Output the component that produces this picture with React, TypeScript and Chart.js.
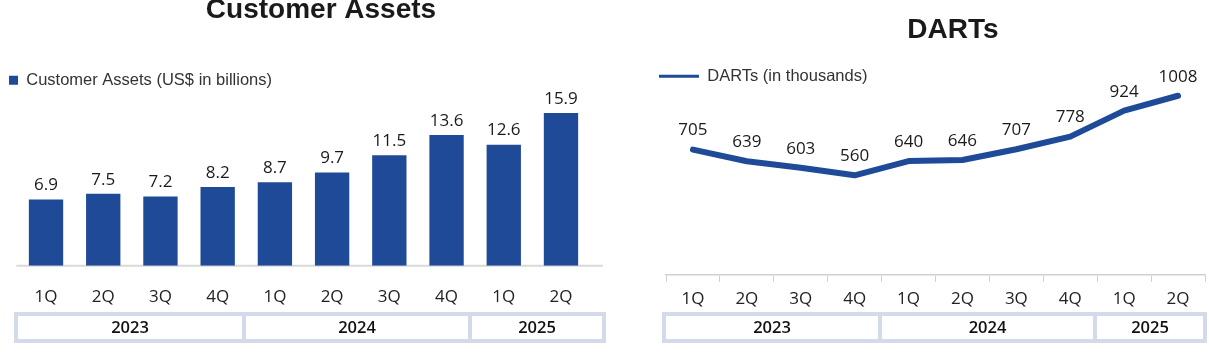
import React, { useEffect, useRef } from 'react';
import { Chart, registerables } from 'chart.js';

Chart.register(...registerables);

// ---------- data ----------
const quarters = ['1Q', '2Q', '3Q', '4Q', '1Q', '2Q', '3Q', '4Q', '1Q', '2Q'];
const years = ['2023', '2024', '2025'];
const customerAssets = [6.9, 7.5, 7.2, 8.2, 8.7, 9.7, 11.5, 13.6, 12.6, 15.9];
const darts = [705, 639, 603, 560, 640, 646, 707, 778, 924, 1008];
const assetsTitle = 'Customer Assets';
const assetsLabel = 'Customer Assets (US$ in billions)';
const dartsTitle = 'DARTs';
const dartsLabel = 'DARTs (in thousands)';

// ---------- styles ----------
const BLUE = '#1f4a98';
const FRAME = '#d3dbeb';
const HUMANIST = "'Open Sans', 'Noto Sans', sans-serif";
const ARIAL = "'Liberation Sans', Arial, sans-serif";
const TICK_FONT = { family: HUMANIST, size: 17, weight: '500' };

const titlePlugin = (text: string, cx: number, cy: number) => ({
  id: 'panelTitle',
  afterDraw(chart: any) {
    const ctx = chart.ctx;
    ctx.save();
    ctx.font = `bold 28px ${ARIAL}`;
    ctx.fillStyle = '#1a1a1a';
    ctx.textAlign = 'center';
    ctx.textBaseline = 'middle';
    ctx.fillText(text, cx, cy);
    ctx.restore();
  },
});

const valueLabels = (offset: number, fmt: (v: number) => string) => ({
  id: 'valueLabels',
  afterDatasetsDraw(chart: any) {
    const ctx = chart.ctx;
    const meta = chart.getDatasetMeta(0);
    const data = chart.data.datasets[0].data as number[];
    ctx.save();
    ctx.font = `500 17px ${HUMANIST}`;
    ctx.fillStyle = '#1a1a1a';
    ctx.textAlign = 'center';
    ctx.textBaseline = 'middle';
    meta.data.forEach((el: any, i: number) => {
      ctx.fillText(fmt(data[i]), el.x, el.y - offset);
    });
    ctx.restore();
  },
});

const yearRow = (edges: number[], top: number, bottom: number) => ({
  id: 'yearRow',
  afterDraw(chart: any) {
    const ctx = chart.ctx;
    ctx.save();
    ctx.fillStyle = FRAME;
    ctx.fillRect(edges[0], top, edges[edges.length - 1] - edges[0], bottom - top);
    for (let i = 0; i < years.length; i++) {
      const l = edges[i] + (i === 0 ? 4 : 2);
      const r = edges[i + 1] - (i === years.length - 1 ? 4 : 2);
      ctx.fillStyle = '#ffffff';
      ctx.fillRect(l, top + 4, r - l, bottom - top - 8);
      ctx.fillStyle = '#111111';
      ctx.font = `600 16.5px ${HUMANIST}`;
      ctx.textAlign = 'center';
      ctx.textBaseline = 'middle';
      ctx.fillText(years[i], (l + r) / 2, (top + bottom) / 2 + 1);
    }
    ctx.restore();
  },
});

const baseLine = (rightEdge: number) => ({
  id: 'baseLine',
  beforeDatasetsDraw(chart: any) {
    const { ctx, chartArea } = chart;
    ctx.save();
    ctx.strokeStyle = '#d9d9d9';
    ctx.lineWidth = 2;
    ctx.beginPath();
    ctx.moveTo(chartArea.left - 1, chartArea.bottom);
    ctx.lineTo(rightEdge, chartArea.bottom);
    ctx.stroke();
    ctx.restore();
  },
});

const assetsConfig = (): any => ({
  type: 'bar',
  data: {
    labels: quarters,
    datasets: [
      {
        label: assetsLabel,
        data: customerAssets,
        backgroundColor: BLUE,
        barPercentage: 0.6,
        categoryPercentage: 1,
      },
    ],
  },
  options: {
    responsive: false,
    animation: false,
    events: [],
    layout: { padding: { left: 0, right: 52.4, top: 63, bottom: 23.8 } },
    plugins: {
      title: { display: false },
      legend: {
        display: true,
        align: 'start',
        labels: {
          boxWidth: 9,
          boxHeight: 9,
          padding: 9,
          color: '#333333',
          font: { family: ARIAL, size: 16.5 },
        },
      },
      tooltip: { enabled: false },
    },
    scales: {
      x: {
        grid: { display: false, drawTicks: false },
        border: { display: false },
        ticks: { color: '#222222', font: TICK_FONT, padding: 21 },
      },
      y: {
        min: 0,
        max: 17.4,
        grid: { display: false },
        border: { display: false },
        ticks: { display: false },
        afterFit: (s: any) => {
          s.width = 17.4;
        },
      },
    },
  },
  plugins: [
    titlePlugin(assetsTitle, 321, 10),
    baseLine(603),
    valueLabels(14, (v) => v.toFixed(1)),
    yearRow([14, 244, 470, 606], 312, 343),
  ],
});

const dartsConfig = (): any => ({
  type: 'line',
  data: {
    labels: quarters,
    datasets: [
      {
        label: dartsLabel,
        data: darts,
        borderColor: BLUE,
        backgroundColor: BLUE,
        borderWidth: 6,
        pointRadius: 0,
        tension: 0,
        fill: false,
        borderCapStyle: 'round',
        borderJoinStyle: 'round',
        clip: false,
      },
    ],
  },
  options: {
    responsive: false,
    animation: false,
    events: [],
    layout: { padding: { left: 0, right: 51, top: 59, bottom: 35.8 } },
    plugins: {
      title: { display: false },
      legend: {
        display: true,
        align: 'start',
        labels: {
          boxWidth: 40,
          boxHeight: 3,
          padding: 9,
          color: '#333333',
          font: { family: ARIAL, size: 16.5 },
          generateLabels: (chart: any) =>
            Chart.defaults.plugins.legend.labels
              .generateLabels(chart)
              .map((it: any) => ({ ...it, fillStyle: BLUE, lineWidth: 0 })),
        },
      },
      tooltip: { enabled: false },
    },
    scales: {
      x: {
        offset: true,
        grid: {
          display: true,
          drawOnChartArea: false,
          offset: true,
          tickLength: 7,
          color: '#d0d0d0',
          lineWidth: 1,
        },
        border: { display: true, color: '#d0d0d0', width: 1.5 },
        ticks: { color: '#222222', font: TICK_FONT, padding: 7 },
      },
      y: {
        min: 0,
        max: 1015,
        grid: { display: false },
        border: { display: false },
        ticks: { display: false },
        afterFit: (s: any) => {
          s.width = 16;
        },
      },
    },
  },
  plugins: [
    titlePlugin(dartsTitle, 303, 30),
    valueLabels(19, (v) => String(v)),
    yearRow([12, 230, 445, 557], 312, 343),
  ],
});

function ChartCanvas({ config, left, width }: { config: () => any; left: number; width: number }) {
  const ref = useRef<HTMLCanvasElement>(null);
  useEffect(() => {
    const chart = new Chart(ref.current as HTMLCanvasElement, config());
    return () => chart.destroy();
  }, []);
  return (
    <canvas
      ref={ref}
      width={width}
      height={352}
      style={{ position: 'absolute', left, top: 0, width, height: 352 }}
    />
  );
}

export default function App() {
  return (
    <div
      style={{
        position: 'absolute',
        left: 0,
        top: 0,
        width: 1209,
        height: 352,
        overflow: 'hidden',
        background: '#ffffff',
      }}
    >
      <ChartCanvas config={assetsConfig} left={0} width={642} />
      <ChartCanvas config={dartsConfig} left={650} width={606} />
    </div>
  );
}
